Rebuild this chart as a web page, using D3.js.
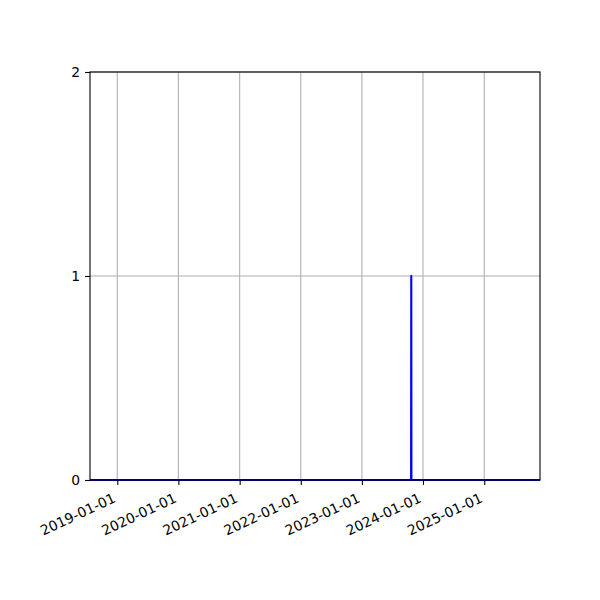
<!DOCTYPE html>
<html><head><meta charset="utf-8">
<script src="https://cdn.jsdelivr.net/npm/d3@7"></script>
<style>
body{margin:0;background:#fff;}
text{font-family:"DejaVu Sans",sans-serif;font-size:13.9px;fill:#000;}
</style></head>
<body><svg id="c" width="600" height="600"></svg>
<script>
const dates = ["2018-07-22","2023-10-22","2023-10-23","2023-10-24","2025-11-30"];
const values = [0, 0, 1, 0, 0];
const xTickLabels = ["2019-01-01","2020-01-01","2021-01-01","2022-01-01","2023-01-01","2024-01-01","2025-01-01"];
const yTicks = [0, 1, 2];

const parse = d3.utcParse("%Y-%m-%d");
const data = dates.map((d,i)=>({t:parse(d), v:values[i]}));
const mL=90, mR=540, mT=72, mB=480;
const x = d3.scaleUtc().domain([parse(dates[0]), parse(dates[dates.length-1])]).range([mL,mR]);
const y = d3.scaleLinear().domain([0,2]).range([mB,mT]);
const svg = d3.select("#c");
const tickDates = xTickLabels.map(parse);

// grid
svg.append("g").selectAll("line").data(tickDates).join("line")
  .attr("x1",d=>x(d)).attr("x2",d=>x(d)).attr("y1",mT).attr("y2",mB)
  .attr("stroke","#b0b0b0").attr("stroke-width",1.1);
svg.append("g").selectAll("line").data(yTicks).join("line")
  .attr("x1",mL).attr("x2",mR).attr("y1",d=>y(d)).attr("y2",d=>y(d))
  .attr("stroke","#b0b0b0").attr("stroke-width",1.1);

// line
svg.append("path").datum(data)
  .attr("d", d3.line().x(d=>x(d.t)).y(d=>y(d.v)))
  .attr("fill","none").attr("stroke","#0000ff").attr("stroke-width",2.1)
  .attr("stroke-linejoin","round").attr("stroke-linecap","butt");

// frame
svg.append("rect").attr("x",mL).attr("y",mT).attr("width",mR-mL).attr("height",mB-mT)
  .attr("fill","none").attr("stroke","#000").attr("stroke-width",1.1);

// x axis
const ang = 25;
const xa = svg.append("g").attr("transform",`translate(0,${mB})`)
  .call(d3.axisBottom(x).tickValues(tickDates).tickSize(4.9).tickPadding(0).tickFormat(d3.utcFormat("%Y-%m-%d")));
xa.select(".domain").remove();
xa.selectAll(".tick line").attr("stroke","#000").attr("stroke-width",1.1);
xa.selectAll(".tick text")
  .attr("text-anchor","end").attr("dominant-baseline","central")
  .attr("y",0).attr("dy",null)
  .attr("transform",`translate(-3.4,17) rotate(${-ang})`);
xa.attr("font-size",null).attr("font-family",null);

// y axis
const ya = svg.append("g").attr("transform",`translate(${mL},0)`)
  .call(d3.axisLeft(y).tickValues(yTicks).tickSize(4.9).tickPadding(4.9).tickFormat(d3.format("d")));
ya.select(".domain").remove();
ya.selectAll(".tick line").attr("stroke","#000").attr("stroke-width",1.1);
ya.selectAll(".tick text").attr("dy","0.35em");
ya.attr("font-size",null).attr("font-family",null);
</script></body></html>
